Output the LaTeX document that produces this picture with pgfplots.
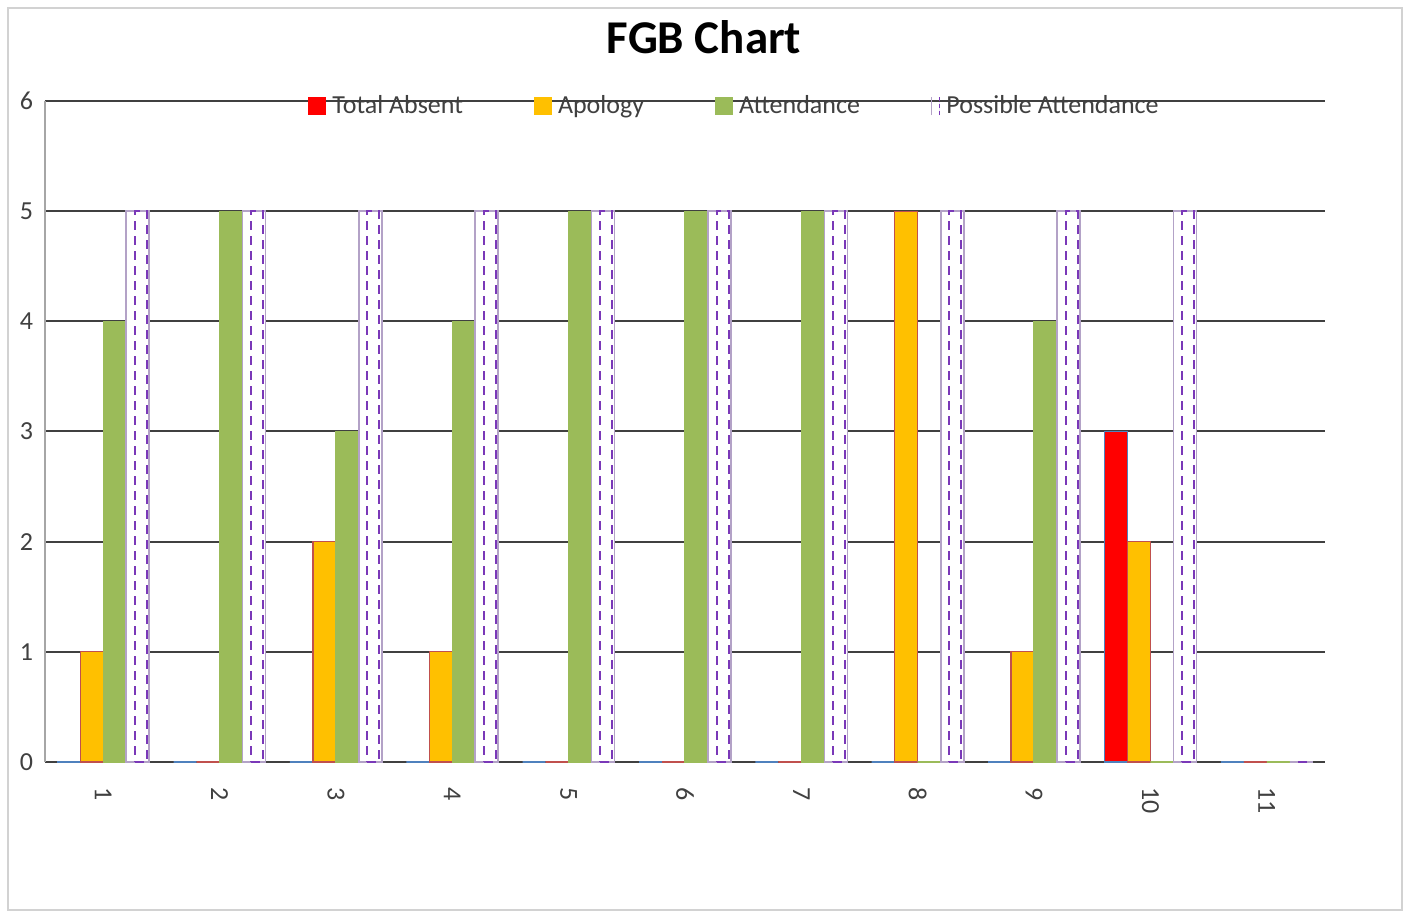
\documentclass[border=0pt]{standalone}
\usepackage{pgfplots}
\pgfplotsset{compat=1.18}
\usepackage{fontspec}
\setmainfont{Carlito}
\definecolor{cRed}{HTML}{FF0000}
\definecolor{cOrange}{HTML}{FFC000}
\definecolor{cGreen}{HTML}{9BBB59}
\definecolor{cPurple}{HTML}{7A38B8}
\definecolor{cLPurple}{HTML}{B3A2C7}
\definecolor{cBlue}{HTML}{4F81BD}
\definecolor{cBrown}{HTML}{C0504D}
\definecolor{cGrid}{HTML}{404040}
\definecolor{cText}{HTML}{404040}
\begin{document}
\begin{tikzpicture}[x=1pt,y=1pt]
\path[use as bounding box] (0,0) rectangle (704.5,456.5);
\draw[color=gray!35, line width=1pt] (4,1.5) rectangle (701,452.5);
\node[font=\bfseries\fontsize{23.5}{26}\selectfont] at (352,438) {FGB Chart};
\begin{axis}[at={(22.5pt,75.5pt)}, anchor=south west, scale only axis,
  width=640pt, height=330.5pt,
  xmin=0.5, xmax=11.5, ymin=0, ymax=6,
  ytick={0,1,2,3,4,5,6}, xtick={1,2,3,4,5,6,7,8,9,10,11},
  axis x line*=bottom, axis y line*=left,
  x axis line style={-, color=cGrid, line width=1pt},
  y axis line style={-, color=gray!70, line width=1pt},
  major tick length=0pt,
  ymajorgrids, major grid style={color=cGrid, line width=1pt},
  tick label style={font=\fontsize{13}{15}\selectfont, text=cText},
  /pgf/number format/assume math mode=true,
  yticklabel style={xshift=-2.5pt},
  xticklabel style={yshift=-9pt, rotate=-90, anchor=west},
  clip=false,
  legend columns=4,
  legend style={at={(0.2055,0.9924)}, anchor=west, draw=none, fill=none,
    inner sep=0pt, font=\fontsize{13}{15}\selectfont, text=cText,
    /tikz/every even column/.append style={column sep=33.5pt},
    /tikz/every odd column/.append style={column sep=1pt}},
  legend image code/.code={\fill[#1, draw=none] (0pt,-4.5pt) rectangle (9pt,4.5pt);},
]
\addplot[ybar, bar width=11.5pt, bar shift=-17.25pt, fill=cRed, draw=cBlue, line width=0.6pt]
  coordinates {(1,0) (2,0) (3,0) (4,0) (5,0) (6,0) (7,0) (8,0) (9,0) (10,3) (11,0)};
\addlegendentry{Total Absent}
\addplot[ybar, bar width=11.5pt, bar shift=-5.75pt, fill=cOrange, draw=cBrown, line width=0.6pt]
  coordinates {(1,1) (2,0) (3,2) (4,1) (5,0) (6,0) (7,0) (8,5) (9,1) (10,2) (11,0)};
\addlegendentry{Apology}
\addplot[ybar, bar width=11.5pt, bar shift=5.75pt, fill=cGreen, draw=cGreen, line width=0.6pt]
  coordinates {(1,4) (2,5) (3,3) (4,4) (5,5) (6,5) (7,5) (8,0) (9,4) (10,0) (11,0)};
\addlegendentry{Attendance}
\addplot[ybar, bar width=11.5pt, bar shift=17.25pt, fill=white, draw=cLPurple, line width=0.8pt,
  legend image code/.code={\draw[cLPurple, line width=0.6pt] (0pt,-4.5pt) -- (0pt,4.5pt);
    \draw[cPurple, line width=0.8pt, dash pattern=on 2pt off 1.5pt] (4pt,-4.5pt) -- (4pt,4.5pt);}]
  coordinates {(1,5) (2,5) (3,5) (4,5) (5,5) (6,5) (7,5) (8,5) (9,5) (10,5) (11,0)};
\addlegendentry{Possible Attendance}
\addplot[ybar, bar width=6pt, bar shift=18.75pt, fill=none, draw=cPurple, line width=1pt,
  dash pattern=on 4.5pt off 3pt, forget plot]
  coordinates {(1,5) (2,5) (3,5) (4,5) (5,5) (6,5) (7,5) (8,5) (9,5) (10,5) (11,0)};
\end{axis}
\end{tikzpicture}
\end{document}
